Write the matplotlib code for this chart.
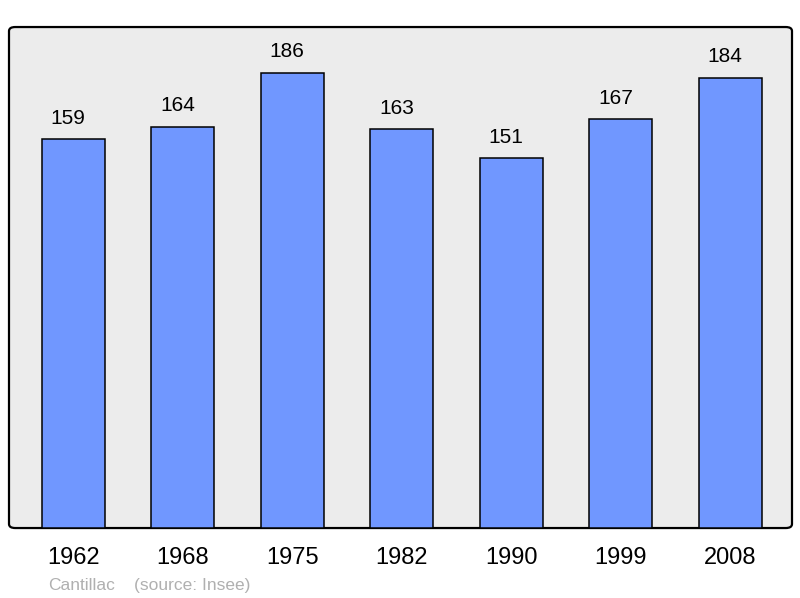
import matplotlib
matplotlib.use("Agg")
import matplotlib.pyplot as plt
from matplotlib.patches import FancyBboxPatch

years = ["1962", "1968", "1975", "1982", "1990", "1999", "2008"]
population = [159, 164, 186, 163, 151, 167, 184]
town = "Cantillac"
source = "(source: Insee)"

plt.rcParams['font.family'] = ['Liberation Sans', 'DejaVu Sans']

fig = plt.figure(figsize=(8, 5.98), dpi=100)
ax = fig.add_axes([0.01125, 0.117, 0.97875, 0.8378])
ax.set_xlim(-0.585, 6.565)
ax.set_ylim(0, 204.7)
ax.patch.set_visible(False)
for s in ax.spines.values():
    s.set_visible(False)

# rounded frame with grey fill
frame = FancyBboxPatch((0, 0), 1, 1, boxstyle="round,pad=0,rounding_size=0.008",
                       transform=ax.transAxes, facecolor="#ececec",
                       edgecolor="black", linewidth=1.6, zorder=0, clip_on=False)
ax.add_patch(frame)

x = range(len(years))
bars = ax.bar(x, population, width=0.575, color="#7097ff", edgecolor="black",
              linewidth=1.1, zorder=2)
for xi, v in zip(x, population):
    ax.annotate(str(v), (xi, v), xytext=(-3.6, 15), textcoords="offset points",
                ha="center", va="center", fontsize=15)

ax.set_xticks(list(x))
ax.set_xticklabels(years, fontsize=17)
ax.tick_params(axis="x", length=0, pad=14)
ax.set_yticks([])

fig.text(0.06, 0.009, town, color="#b0b0b0", fontsize=12.5, ha="left", va="bottom")
fig.text(0.168, 0.009, source, color="#b0b0b0", fontsize=12.5, ha="left", va="bottom")

fig.savefig("out.png", dpi=100)
